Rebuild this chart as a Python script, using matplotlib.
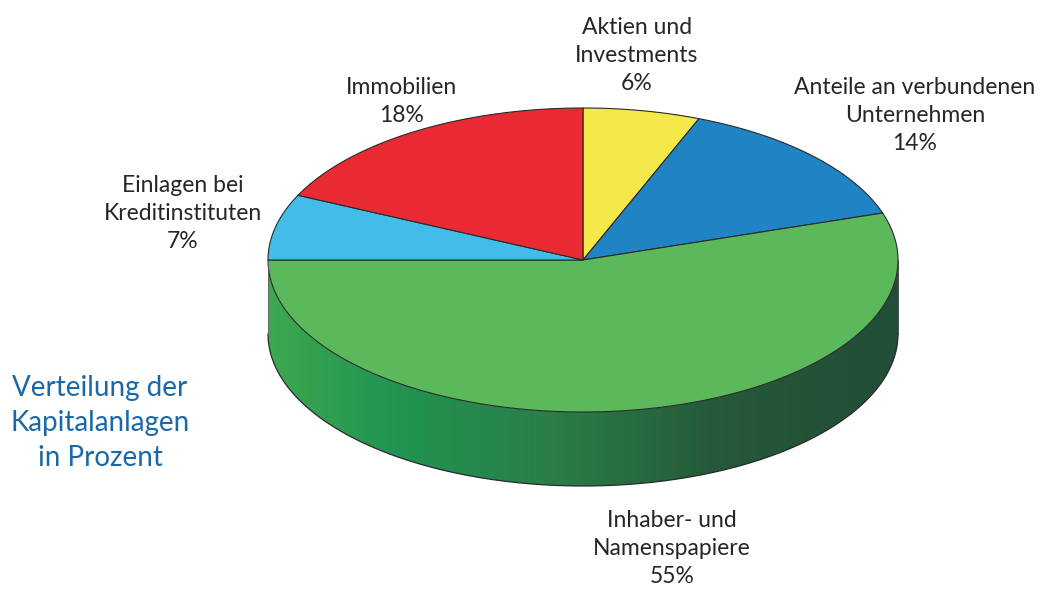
import numpy as np
import matplotlib.pyplot as plt
from matplotlib.patches import Polygon
from matplotlib.colors import LinearSegmentedColormap

plt.rcParams['font.family'] = ['Lato', 'DejaVu Sans']

# data
labels = ["Aktien und\nInvestments", "Anteile an verbundenen\nUnternehmen",
          "Inhaber- und\nNamenspapiere", "Einlagen bei\nKreditinstituten", "Immobilien"]
shares = [6, 14, 55, 7, 18]
colors = ["#f4e84a", "#1f83c4", "#5bb85b", "#43bde8", "#e92a33"]

# label placement (pixel center x, top y of first line)
label_pos = [(637, 17), (915, 77), (672, 510), (183, 175), (402, 77)]

title = "Verteilung der\nKapitalanlagen\nin Prozent"

cx, cy = 583, 260
rx, ry = 315, 152
depth = 74

fig = plt.figure(figsize=(10.4, 5.9), dpi=100)
ax = fig.add_axes([0, 0, 1, 1])
ax.set_xlim(0, 1040)
ax.set_ylim(590, 0)
ax.axis("off")


def pt(t, dy=0):
    r = np.radians(t)
    return cx + rx * np.cos(r), cy - ry * np.sin(r) + dy


side_cmap = LinearSegmentedColormap.from_list(
    "side", [(0, "#3da84f"), (0.2, "#219452"), (0.45, "#2a7e48"),
             (0.7, "#255a3a"), (1.0, "#214e36")])

total = sum(shares)
bounds = []
start = 90.0
for s in shares:
    end = start - 360.0 * s / total
    bounds.append((start, end))
    start = end

# side walls (front half only)
for (a0, a1), col in zip(bounds, colors):
    lo, hi = min(a0, a1), max(a0, a1)
    for off in (0, -360, 360):
        l2, h2 = max(lo + off, -180), min(hi + off, 0)
        if h2 <= l2:
            continue
        ts = np.linspace(l2, h2, 300)
        xs, ys = pt(ts)
        verts = list(zip(xs, ys)) + list(zip(xs[::-1], ys[::-1] + depth))
        if col == "#5bb85b":
            wall = Polygon(verts, closed=True, facecolor="none", edgecolor="none")
            ax.add_patch(wall)
            grad = np.linspace(0, 1, 512).reshape(1, -1)
            im = ax.imshow(grad, cmap=side_cmap, aspect="auto",
                           extent=(cx - rx, cx + rx, cy + ry + depth + 5, cy - 5),
                           vmin=0, vmax=1, interpolation="bilinear")
            im.set_clip_path(wall)
        else:
            ax.add_patch(Polygon(verts, closed=True, facecolor=col, edgecolor="none"))
        ax.plot(xs, ys + depth, color="#2a2a2a", lw=0.9)
        ax.plot([xs[0], xs[0]], [ys[0], ys[0] + depth], color="#666666", lw=0.6)
        ax.plot([xs[-1], xs[-1]], [ys[-1], ys[-1] + depth], color="#333333", lw=0.6)

ax.set_xlim(0, 1040)
ax.set_ylim(590, 0)

# top face
for (a0, a1), col in zip(bounds, colors):
    ts = np.linspace(a0, a1, 200)
    xs, ys = pt(ts)
    verts = [(cx, cy)] + list(zip(xs, ys))
    ax.add_patch(Polygon(verts, closed=True, facecolor=col, edgecolor="#2a2a2a",
                         lw=0.8, joinstyle="round"))

# labels
for lab, s, (lx, ly) in zip(labels, shares, label_pos):
    ax.text(lx, ly, lab + "\n" + f"{s}%", ha="center", va="top", fontsize=16.5,
            color="#262626", linespacing=1.4)

ax.text(100, 375, title, ha="center", va="top", fontsize=20, color="#1a68a8",
        linespacing=1.42)

fig.savefig("out.png", dpi=100)
